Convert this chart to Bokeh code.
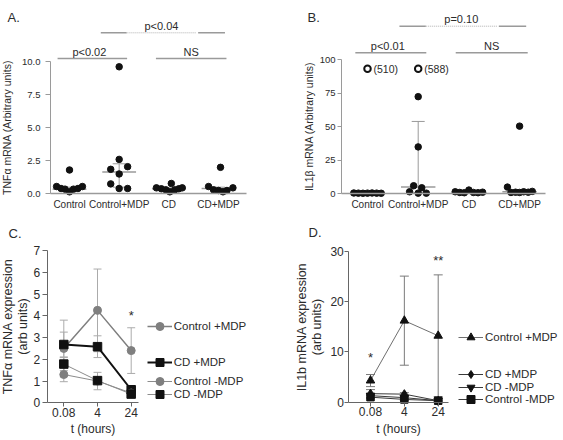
from bokeh.plotting import figure
from bokeh.layouts import column, row
from bokeh.models import (ColumnDataSource, FixedTicker, Whisker, TeeHead, Label,
                          Legend, LegendItem, NumeralTickFormatter, Range1d)
from bokeh.core.properties import value
from bokeh.embed import file_html
from bokeh.resources import INLINE

FONT = "Liberation Sans"
TXT = "#2b2b2b"

# ---------------- data: panels A and B ----------------
groups = ["Control", "Control+MDP", "CD", "CD+MDP"]
group_pos = [1, 2, 3, 4]

tnf_control = [0.55, 0.4, 0.35, 0.15, 0.35, 0.4, 0.55, 1.8]
tnf_control_mdp = [9.6, 2.6, 1.85, 2.05, 1.5, 0.75, 0.4, 0.4]
tnf_cd = [0.45, 0.38, 0.3, 0.15, 0.78, 0.3, 0.38, 0.45]
tnf_cd_mdp = [0.55, 0.3, 0.25, 2.0, 0.15, 0.25, 0.45]
tnf_median = [0.35, 1.65, 0.38, 0.4]
tnf_q1 = [0.3, 0.5, 0.3, 0.25]
tnf_q3 = [0.5, 2.27, 0.45, 0.5]

il1_control = [0.6, 0.5, 0.4, 0.5, 0.6, 0.5, 0.4]
il1_control_mdp = [72.5, 35.0, 6.0, 4.5, 1.5, 0.5, 0.5]
il1_cd = [1.5, 1.0, 0.8, 2.8, 1.0, 0.8, 1.2]
il1_cd_mdp = [5.0, 50.5, 1.0, 1.2, 1.0, 1.5, 1.2, 1.8]
il1_offscale = [510, 588]          # off-scale values (Control, Control+MDP)
il1_offscale_group = [1, 2]
il1_median = [0.5, 5.0, 1.0, 1.5]
il1_q1 = [0.4, 0.8, 0.8, 1.0]
il1_q3 = [0.6, 54.0, 1.5, 2.5]

sigA_labels = ["p<0.02", "NS", "p<0.04"]
sigB_labels = ["p<0.01", "NS", "p=0.10"]

# ---------------- data: panels C and D ----------------
time_labels = ["0.08", "4", "24"]
time_pos = [0, 1, 2]

tnf_t_ctrl_mdp = [2.5, 4.25, 2.4]
tnf_t_ctrl_mdp_err = [1.3, 1.9, 1.05]
tnf_t_cd_mdp = [2.68, 2.58, 0.6]
tnf_t_cd_mdp_err = [0.57, 0.5, 0.12]
tnf_t_ctrl = [1.3, 1.0, 0.45]
tnf_t_ctrl_err = [0.33, 0.4, 0.1]
tnf_t_cd = [1.78, 1.02, 0.4]
tnf_t_cd_err = [0.3, 0.15, 0.1]

il1_t_ctrl_mdp = [4.3, 16.2, 13.2]
il1_t_ctrl_mdp_err = [1.2, 8.85, 12.1]
il1_t_cd_mdp = [1.7, 1.6, 0.3]
il1_t_cd_mdp_err = [0.8, 0.3, 0.1]
il1_t_cd = [1.3, 0.9, 0.3]
il1_t_cd_err = [0.4, 0.3, 0.1]
il1_t_ctrl = [1.0, 0.55, 0.3]
il1_t_ctrl_err = [0.3, 0.2, 0.1]

# ---------------- layout helpers (positions only) ----------------
jit_A = [
    [-0.26, -0.17, -0.09, 0.0, 0.08, 0.17, 0.26, 0.0],
    [0.0, 0.0, -0.17, 0.17, 0.0, -0.17, 0.0, 0.17],
    [-0.25, -0.15, -0.06, 0.02, 0.05, 0.12, 0.2, 0.27],
    [-0.2, -0.1, 0.0, 0.04, 0.09, 0.17, 0.29],
]
jit_B = [
    [-0.27, -0.18, -0.09, 0.0, 0.09, 0.18, 0.27],
    [0.0, 0.0, -0.09, 0.07, -0.17, 0.0, 0.16],
    [-0.27, -0.18, -0.09, 0.0, 0.09, 0.18, 0.27],
    [-0.24, 0.0, -0.17, -0.08, 0.0, 0.08, 0.17, 0.25],
]


class Px:
    """pixel (within a figure) -> data coordinate mapping for one panel"""
    def __init__(self, W, H, c_ref, px_ref, s, py0, k):
        self.W, self.H = W, H
        self.c_ref, self.px_ref, self.s, self.py0, self.k = c_ref, px_ref, s, py0, k

    def x(self, px):
        return self.c_ref + (px - self.px_ref) / self.s

    def y(self, py):
        return (self.py0 - py) / self.k


def base_fig(m):
    p = figure(width=m.W, height=m.H, x_range=Range1d(m.x(0), m.x(m.W)),
               y_range=Range1d(m.y(m.H), m.y(0)), output_backend="svg",
               toolbar_location=None, title=None,
               min_border_left=0, min_border_right=0, min_border_top=0,
               min_border_bottom=0)
    p.grid.visible = False
    p.outline_line_color = None
    p.background_fill_color = "white"
    p.border_fill_color = "white"
    return p


def style_axis(ax, ticks, line_color, tick_out, label_size, standoff, fixed,
               overrides=None, fmt=None, bounds=None, axis_label=None,
               axis_label_size="10px", axis_label_standoff=0, line_width=1):
    ax.fixed_location = fixed
    ax.ticker = FixedTicker(ticks=ticks)
    if overrides:
        ax.major_label_overrides = overrides
    if fmt:
        ax.formatter = NumeralTickFormatter(format=fmt)
    if bounds is not None:
        ax.bounds = bounds
    ax.axis_line_color = line_color
    ax.axis_line_width = line_width
    ax.major_tick_line_color = line_color if tick_out > 0 else None
    ax.major_tick_line_width = 1
    ax.major_tick_out = tick_out
    ax.major_tick_in = 0
    ax.minor_tick_line_color = None
    ax.major_label_text_font = FONT
    ax.major_label_text_font_size = label_size
    ax.major_label_text_color = TXT
    ax.major_label_standoff = standoff
    if axis_label is not None:
        ax.axis_label = axis_label
        ax.axis_label_text_font = FONT
        ax.axis_label_text_font_size = axis_label_size
        ax.axis_label_text_font_style = "normal"
        ax.axis_label_text_color = TXT
        ax.axis_label_standoff = axis_label_standoff
        ax.axis_label_text_line_height = 1.05


def panel_label(p, m, px, py, text):
    p.add_layout(Label(x=m.x(px), y=m.y(py), text=text, text_font=FONT,
                       text_font_size="13px", text_color=TXT,
                       text_baseline="alphabetic", text_align="left"))


def dot_panel(p, datasets, jitters, medians, q1, q3, sig_labels, y_inner, y_outer,
              cap_px):
    src_m = ColumnDataSource(dict(x0=[g - 0.34 for g in group_pos],
                                  x1=[g + 0.34 for g in group_pos], y=medians))
    p.segment(x0="x0", x1="x1", y0="y", y1="y", source=src_m, line_color="#9a9a9a",
              line_width=1.5)
    src_w = ColumnDataSource(dict(x=group_pos, lo=q1, hi=q3))
    p.add_layout(Whisker(base="x", lower="lo", upper="hi", source=src_w,
                         line_color="#9a9a9a", line_width=1,
                         lower_head=TeeHead(size=cap_px, line_color="#9a9a9a", line_width=1),
                         upper_head=TeeHead(size=cap_px, line_color="#9a9a9a", line_width=1)))
    xs, ys = [], []
    for g, vals, jit in zip(group_pos, datasets, jitters):
        for v, j in zip(vals, jit):
            xs.append(g + j)
            ys.append(v)
    p.scatter(xs, ys, marker="circle", size=6.5, fill_color="#111111",
              line_color="#111111")
    # significance brackets
    p.segment(x0=[0.76, 2.74], x1=[2.16, 4.16], y0=[y_inner, y_inner],
              y1=[y_inner, y_inner], line_color="#9a9a9a", line_width=1.5)
    p.segment(x0=[1.63, 3.59], x1=[2.15, 4.13], y0=[y_outer, y_outer],
              y1=[y_outer, y_outer], line_color="#9a9a9a", line_width=1.5)
    p.segment(x0=[2.15], x1=[3.55], y0=[y_outer], y1=[y_outer], line_color="#b0b0b0",
              line_width=1, line_dash="1 1")
    p.text(x=[1.4, 3.45, 2.85], y=[y_inner, y_inner, y_outer], text=sig_labels,
           text_font=value(FONT), text_font_size="11px", text_color=TXT,
           text_align="center", text_baseline="bottom", y_offset=-1)


# ================= Panel A =================
mA = Px(281, 216, 1, 69, 49.67, 193.3, 13.23)
pA = base_fig(mA)
style_axis(pA.yaxis[0], [0, 2.5, 5, 7.5, 10], "#9a9a9a", 5, "9.5px", 5, mA.x(50),
           fmt="0.0", bounds=(0, 10), axis_label="TNFα mRNA (Arbitrary units)",
           axis_label_size="10.5px", axis_label_standoff=6)
style_axis(pA.xaxis[0], group_pos, "#9a9a9a", 0, "10px", 5, 0,
           overrides={g: n for g, n in zip(group_pos, groups)},
           bounds=(mA.x(50), mA.x(246)), line_width=1.5)
dot_panel(pA, [tnf_control, tnf_control_mdp, tnf_cd, tnf_cd_mdp], jit_A,
          tnf_median, tnf_q1, tnf_q3, sigA_labels, mA.y(58), mA.y(32.3), 13)
panel_label(pA, mA, 7, 17, "A.")

# ================= Panel B =================
mB = Px(281, 216, 1, 86, 50.7, 193.3, 1.34)
pB = base_fig(mB)
style_axis(pB.yaxis[0], [0, 25, 50, 75, 100], "#9a9a9a", 4, "9.5px", 2, mB.x(60),
           bounds=(0, 100), axis_label="IL1β mRNA (Arbitrary units)",
           axis_label_size="10.5px", axis_label_standoff=2)
style_axis(pB.xaxis[0], group_pos, "#9a9a9a", 0, "10px", 5, 0,
           overrides={g: n for g, n in zip(group_pos, groups)},
           bounds=(mB.x(60), mB.x(264)), line_width=1.5)
dot_panel(pB, [il1_control, il1_control_mdp, il1_cd, il1_cd_mdp], jit_B,
          il1_median, il1_q1, il1_q3, sigB_labels, mB.y(52.3), mB.y(25.7), 13)
offscale_level = [mB.y(68.3)] * len(il1_offscale)
pB.scatter(il1_offscale_group, offscale_level, marker="circle", size=6.5,
           fill_color="white", line_color="#111111", line_width=2)
pB.text(x=il1_offscale_group, y=offscale_level, text=[f"({v})" for v in il1_offscale],
        text_font=value(FONT), text_font_size="10.5px", text_color=TXT,
        text_align="left", text_baseline="middle", x_offset=6)
panel_label(pB, mB, 26, 17, "B.")


# ================= Panels C and D =================
def err_src(means, errs):
    return ColumnDataSource(dict(x=time_pos, y=means,
                                 lo=[m - e for m, e in zip(means, errs)],
                                 hi=[m + e for m, e in zip(means, errs)]))


def add_whisker(p, src, color, cap):
    p.add_layout(Whisker(base="x", lower="lo", upper="hi", source=src, line_color=color,
                         line_width=1,
                         lower_head=TeeHead(size=cap, line_color=color, line_width=1),
                         upper_head=TeeHead(size=cap, line_color=color, line_width=1)))


def add_key(p, m, label, renderers, gx, gy_center, size):
    lg = Legend(items=[LegendItem(label=label, renderers=renderers)],
                location=(gx, m.H - gy_center - 10),
                padding=0, margin=0, spacing=0, glyph_width=25, glyph_height=20,
                label_height=14, label_standoff=2, label_text_font=FONT,
                label_text_font_size=size, label_text_color=TXT,
                background_fill_alpha=0, border_line_color=None)
    p.add_layout(lg, "center")


# ---- Panel C ----
mC = Px(281, 222, 0, 63.3, 33.7, 186.3, 21.75)
pC = base_fig(mC)
style_axis(pC.yaxis[0], list(range(0, 8)), "#666666", 5, "12px", 2, mC.x(46.7),
           bounds=(0, 7), axis_label="TNFα mRNA expression\n(arb units)",
           axis_label_size="12.5px", axis_label_standoff=1)
style_axis(pC.xaxis[0], time_pos, "#666666", 4, "12px", 1, 0,
           overrides={i: t for i, t in zip(time_pos, time_labels)},
           bounds=(mC.x(46.7), mC.x(138.3)), axis_label="t (hours)",
           axis_label_size="12px", axis_label_standoff=2)

seriesC = [
    (tnf_t_ctrl_mdp, tnf_t_ctrl_mdp_err, "#7f7f7f", 1.5, "circle", 8, "#7f7f7f", "Control +MDP", 110),
    (tnf_t_cd_mdp, tnf_t_cd_mdp_err, "#111111", 2, "square", 8.5, "#111111", "CD +MDP", 145.7),
    (tnf_t_ctrl, tnf_t_ctrl_err, "#8c8c8c", 1, "circle", 8, "#7f7f7f", "Control -MDP", 165),
    (tnf_t_cd, tnf_t_cd_err, "#8c8c8c", 1, "square", 8.5, "#111111", "CD -MDP", 178),
]
for means, errs, lc, lw, mk, ms, mc, name, ky in seriesC:
    src = err_src(means, errs)
    add_whisker(pC, src, "#ababab", 8)
    lr = pC.line("x", "y", source=src, line_color=lc, line_width=lw)
    sr = pC.scatter("x", "y", source=src, marker=mk, size=ms, fill_color=mc, line_color=mc)
    add_key(pC, mC, name, [lr, sr], 146.7, ky, "11.5px")
pC.text(x=[2], y=[4.0], text=["*"], text_font=value(FONT), text_font_size="13px",
        text_color=TXT, text_align="center", text_baseline="middle")
panel_label(pC, mC, 8, 17, "C.")

# ---- Panel D ----
mD = Px(281, 222, 0, 89, 33.85, 185.7, 5.033)
pD = base_fig(mD)
style_axis(pD.yaxis[0], [0, 10, 20, 30], "#666666", 4, "12px", 1, mD.x(67.3),
           bounds=(0, 30), axis_label="IL1b mRNA expression\n(arb units)",
           axis_label_size="12.5px", axis_label_standoff=3)
style_axis(pD.xaxis[0], time_pos, "#666666", 4, "12px", 1, 0,
           overrides={i: t for i, t in zip(time_pos, time_labels)},
           bounds=(mD.x(67.3), mD.x(167)), axis_label="t (hours)",
           axis_label_size="12px", axis_label_standoff=2)

seriesD = [
    (il1_t_ctrl_mdp, il1_t_ctrl_mdp_err, "#6f6f6f", "triangle", 8.5, "Control +MDP", 120.7),
    (il1_t_cd_mdp, il1_t_cd_mdp_err, "#3a3a3a", "diamond", 9, "CD +MDP", 158),
    (il1_t_cd, il1_t_cd_err, "#3a3a3a", "inverted_triangle", 8.5, "CD -MDP", 170.5),
    (il1_t_ctrl, il1_t_ctrl_err, "#3a3a3a", "square", 7.5, "Control -MDP", 183),
]
for means, errs, lc, mk, ms, name, ky in seriesD:
    src = err_src(means, errs)
    add_whisker(pD, src, "#7a7a7a", 9)
    lr = pD.line("x", "y", source=src, line_color=lc, line_width=1)
    sr = pD.scatter("x", "y", source=src, marker=mk, size=ms, fill_color="#111111",
                    line_color="#111111")
    add_key(pD, mD, name, [lr, sr], 177, ky, "11.5px")
pD.text(x=[0, 2], y=[8.9, 28.2], text=["*", "**"], text_font=value(FONT),
        text_font_size="13px", text_color=TXT, text_align="center", text_baseline="middle")
panel_label(pD, mD, 27, 16, "D.")

layout = column(row(pA, pB), row(pC, pD))
open("out.html", "w").write(file_html(layout, INLINE))
